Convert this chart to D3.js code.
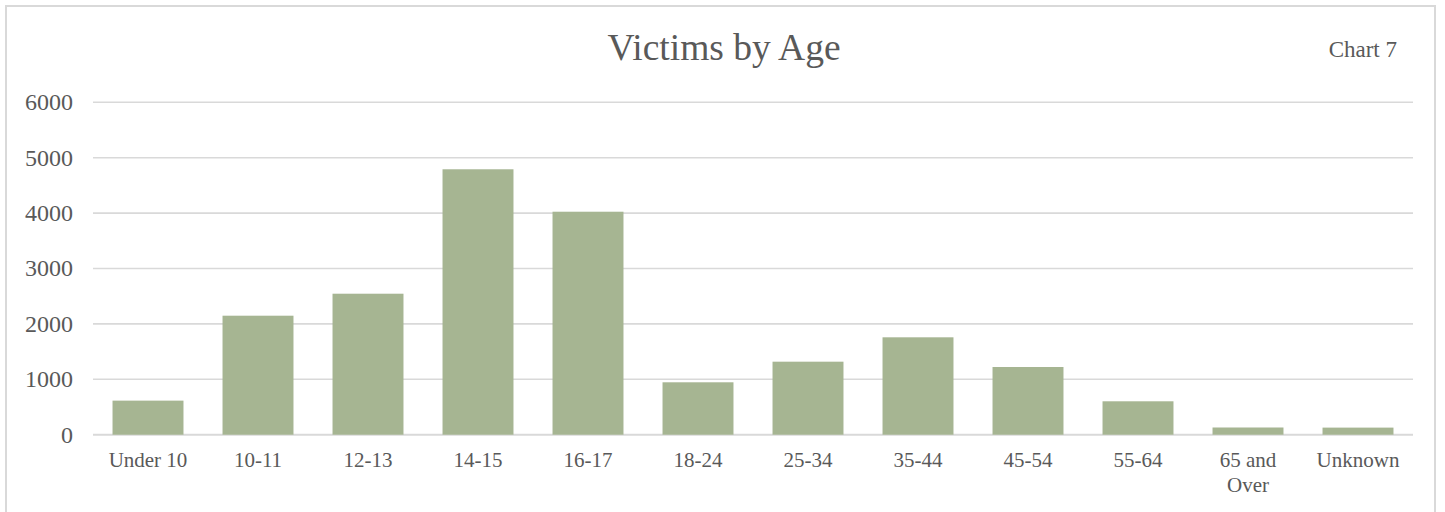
<!DOCTYPE html>
<html>
<head>
<meta charset="utf-8">
<script src="https://cdn.jsdelivr.net/npm/d3@7"></script>
<style>
  html, body { margin: 0; padding: 0; background: #fff; }
  svg { display: block; font-family: "Liberation Serif", "Times New Roman", serif; }
</style>
</head>
<body>
<svg id="chart" width="1445" height="512"></svg>
<script>
// 数据
const categories = ["Under 10", "10-11", "12-13", "14-15", "16-17", "18-24", "25-34", "35-44", "45-54", "55-64", "65 and Over", "Unknown"];
const victims = [615, 2148, 2545, 4791, 4025, 946, 1318, 1758, 1222, 603, 130, 128];
const yTicks = [0, 1000, 2000, 3000, 4000, 5000, 6000];

const svg = d3.select("#chart");
const W = 1445, H = 512;

// 绘图区域
const plot = { left: 93, right: 1413, top: 102.3, bottom: 434.7 };

const textColor = "#595959";
const gridColor = "#d9d9d9";
const barColor = "#a6b592";

// 外边框
svg.append("rect").attr("x", 6).attr("y", 6).attr("width", 1429).attr("height", H + 10)
  .attr("fill", "#fff").attr("stroke", gridColor).attr("stroke-width", 2);

// 比例尺
const x = d3.scaleBand().domain(categories).range([plot.left, plot.right])
  .paddingInner(0.355).paddingOuter(0.1775);
const y = d3.scaleLinear().domain([0, 6000]).range([plot.bottom, plot.top]);

// 网格线
svg.append("g").selectAll("line").data(yTicks).join("line")
  .attr("x1", plot.left).attr("x2", plot.right)
  .attr("y1", d => y(d)).attr("y2", d => y(d))
  .attr("stroke", gridColor).attr("stroke-width", d => d === 0 ? 2 : 1.6);

// y轴刻度
svg.append("g").selectAll("text").data(yTicks).join("text")
  .attr("x", 73).attr("y", d => y(d)).attr("dy", "0.33em")
  .attr("text-anchor", "end").attr("font-size", 24).attr("fill", textColor)
  .text(d => d);

// 柱子
svg.append("g").selectAll("rect").data(victims).join("rect")
  .attr("x", (d, i) => x(categories[i])).attr("width", x.bandwidth())
  .attr("y", d => y(d)).attr("height", d => y(0) - y(d))
  .attr("fill", barColor);

// x轴标签 (“65 and Over”换行)
const xl = svg.append("g").selectAll("text").data(categories).join("text")
  .attr("x", d => x(d) + x.bandwidth() / 2).attr("y", 467)
  .attr("text-anchor", "middle").attr("font-size", 21).attr("fill", textColor);
xl.each(function (d) {
  const t = d3.select(this);
  const parts = d === "65 and Over" ? ["65 and", "Over"] : [d];
  parts.forEach((p, k) => {
    t.append("tspan").attr("x", x(d) + x.bandwidth() / 2).attr("dy", k === 0 ? 0 : 25).text(p);
  });
});

// 标题
svg.append("text").attr("x", 724).attr("y", 60).attr("text-anchor", "middle")
  .attr("font-size", 37.5).attr("fill", textColor).text("Victims by Age");

svg.append("text").attr("x", 1397).attr("y", 57).attr("text-anchor", "end")
  .attr("font-size", 23).attr("fill", textColor).text("Chart 7");
</script>
</body>
</html>
